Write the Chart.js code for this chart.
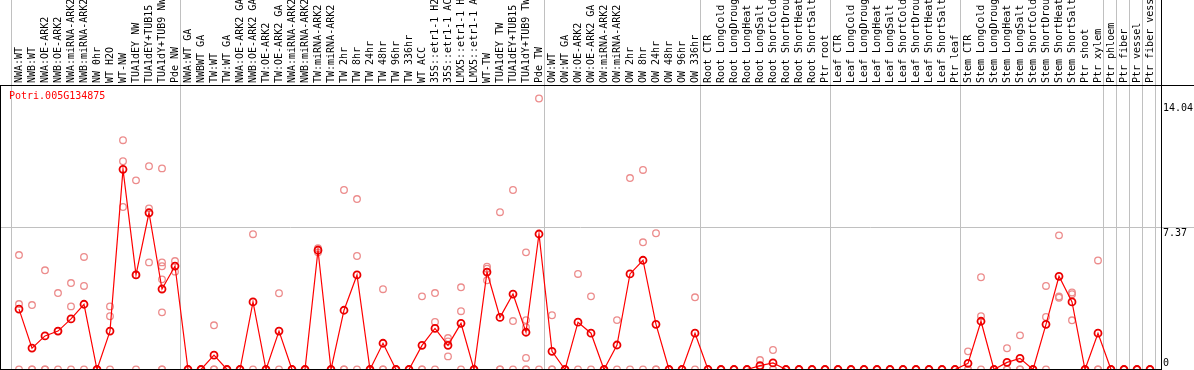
<!DOCTYPE html>
<html>
<head>
<meta charset="utf-8">
<script src="https://cdn.jsdelivr.net/npm/chart.js@4.4.1/dist/chart.umd.min.js"></script>
<style>
  html, body { margin: 0; padding: 0; background: #fff; }
  canvas { display: block; }
</style>
</head>
<body>
<canvas id="chart" width="1194" height="370"></canvas>
<script>
const geneId = 'Potri.005G134875';

const categories = [
  'NWA:WT', 'NWB:WT', 'NWA:OE-ARK2', 'NWB:OE-ARK2', 'NWA:miRNA-ARK2', 'NWB:miRNA-ARK2',
  'NW 0hr', 'WT H2O', 'WT-NW', 'TUA1dEY NW', 'TUA1dEY+TUB15 NW', 'TUA1dY+TUB9 NW', 'Pde NW',
  'NWA:WT GA', 'NWBWT GA', 'TW:WT', 'TW:WT GA', 'NWA:OE-ARK2 GA', 'NWB:OE-ARK2 GA',
  'TW:OE-ARK2', 'TW:OE-ARK2 GA', 'NWA:miRNA-ARK2 GA', 'NWB:miRNA-ARK2 GA', 'TW:miRNA-ARK2',
  'TW:miRNA-ARK2 GA', 'TW 2hr', 'TW 8hr', 'TW 24hr', 'TW 48hr', 'TW 96hr', 'TW 336hr',
  'WT ACC', '35S::etr1-1 H2O', '35S::etr1-1 ACC', 'LMX5::etr1-1 H2O', 'LMX5::etr1-1 ACC',
  'WT-TW', 'TUA1dEY TW', 'TUA1dEY+TUB15 TW', 'TUA1dY+TUB9 TW', 'Pde TW',
  'OW:WT', 'OW:WT GA', 'OW:OE-ARK2', 'OW:OE-ARK2 GA', 'OW:miRNA-ARK2', 'OW:miRNA-ARK2 GA',
  'OW 2hr', 'OW 8hr', 'OW 24hr', 'OW 48hr', 'OW 96hr', 'OW 336hr',
  'Root CTR', 'Root LongCold', 'Root LongDrought', 'Root LongHeat', 'Root LongSalt',
  'Root ShortCold', 'Root ShortDrought', 'Root ShortHeat', 'Root ShortSalt', 'Ptr root',
  'Leaf CTR', 'Leaf LongCold', 'Leaf LongDrought', 'Leaf LongHeat', 'Leaf LongSalt',
  'Leaf ShortCold', 'Leaf ShortDrought', 'Leaf ShortHeat', 'Leaf ShortSalt', 'Ptr leaf',
  'Stem CTR', 'Stem LongCold', 'Stem LongDrought', 'Stem LongHeat', 'Stem LongSalt',
  'Stem ShortCold', 'Stem ShortDrought', 'Stem ShortHeat', 'Stem ShortSalt',
  'Ptr shoot', 'Ptr xylem', 'Ptr phloem', 'Ptr fiber', 'Ptr vessel', 'Ptr fiber vessel'
];

// mean expression per sample
const means = [
  3.13, 1.11, 1.74, 1.99, 2.62, 3.38, 0, 1.99, 10.37, 4.90, 8.12, 4.17, 5.36,
  0, 0, 0.74, 0, 0, 3.50, 0, 1.99, 0, 0, 6.18, 0,
  3.07, 4.90, 0, 1.36, 0, 0,
  1.25, 2.13, 1.25, 2.39, 0, 5.05, 2.70, 3.91, 1.93, 7.02,
  0.94, 0, 2.45, 1.88, 0, 1.27, 4.95, 5.66, 2.34, 0, 0, 1.88,
  0, 0, 0, 0, 0.20, 0.34, 0, 0, 0, 0,
  0, 0, 0, 0, 0, 0, 0, 0, 0, 0,
  0.32, 2.50, 0, 0.37, 0.58, 0, 2.34, 4.83, 3.50,
  0, 1.88, 0, 0, 0, 0
];

// individual replicates per sample
const replicates = [
  [5.93, 3.39, 0], [3.34, 0, 0], [5.14, 0, 0], [3.96, 1.99, 0], [4.48, 3.27, 0], [5.83, 4.33, 0],
  [0, 0, 0], [3.27, 2.76, 0], [11.88, 10.79, 8.42], [9.80, 4.90, 0], [10.53, 8.35, 5.55],
  [10.42, 5.55, 5.35, 4.67, 2.96, 0, 0], [5.62, 5.07],
  [0, 0, 0], [0, 0, 0], [2.29, 0, 0], [0, 0, 0], [0, 0, 0], [7.01, 0], [0, 0, 0], [3.95, 0],
  [0, 0, 0], [0, 0, 0], [6.28, 6.07], [0, 0, 0],
  [9.30, 0, 0], [8.83, 5.88, 0], [0, 0, 0], [4.16, 0, 0], [0, 0, 0], [0, 0, 0],
  [3.79, 0, 0], [3.96, 2.46, 0], [1.63, 1.45, 0.68], [4.26, 3.02, 0], [0, 0, 0],
  [5.33, 5.22, 4.62], [8.15, 0, 0], [9.30, 2.51, 0], [6.07, 2.56, 2.19, 0.60, 0, 0], [14.04, 0],
  [2.81, 0, 0], [0, 0, 0], [4.95, 0], [3.79, 0], [0, 0, 0], [2.56, 0], [9.92, 0],
  [10.34, 6.59, 0], [7.06, 0, 0], [0, 0, 0], [0, 0, 0], [3.74, 0],
  [0, 0, 0], [0, 0, 0], [0, 0, 0], [0, 0, 0], [0.49, 0, 0], [1.01, 0, 0], [0, 0, 0], [0, 0, 0],
  [0, 0, 0], [0, 0, 0],
  [0, 0, 0], [0, 0, 0], [0, 0, 0], [0, 0, 0], [0, 0, 0], [0, 0, 0], [0, 0, 0], [0, 0, 0],
  [0, 0, 0], [0, 0, 0],
  [0.94, 0, 0], [4.78, 2.76, 0], [0, 0, 0], [1.10, 0, 0], [1.77, 0, 0], [0, 0, 0],
  [4.33, 2.72, 0], [6.95, 3.78, 3.72], [3.99, 3.90, 2.55],
  [0, 0, 0], [5.65, 0, 0], [0, 0, 0], [0, 0, 0], [0, 0, 0], [0, 0, 0]
];

// index of first sample in each tissue group (separator lines)
const groupStarts = [0, 13, 41, 53, 63, 73, 84, 85, 86, 87, 88];

const yTicks = [0, 7.37, 14.04];
const yMax = 14.74;

const FONT = '"DejaVu Sans Mono", "Liberation Mono", monospace';
const SEP_SHIFT = 0.6;

const framePlugin = {
  id: 'frame',
  beforeDraw(chart) {
    const { ctx, chartArea: a, scales: { x } } = chart;
    ctx.save();
    ctx.fillStyle = '#c0c0c0';
    groupStarts.forEach((k) => {
      const px = Math.round(x.getPixelForValue(k - SEP_SHIFT));
      ctx.fillRect(px, 0, 1, a.bottom);
    });
    ctx.restore();
  },
  afterDraw(chart) {
    const { ctx, chartArea: a, scales: { y } } = chart;
    ctx.save();
    ctx.fillStyle = '#000';
    ctx.fillRect(0, Math.floor(a.top), chart.width, 1);
    ctx.fillRect(Math.floor(a.right), 0, 1, chart.height);
    ctx.fillRect(Math.floor(a.left), a.top, 1, a.bottom - a.top);
    ctx.fillRect(a.left, Math.floor(a.bottom), a.right - a.left, 1);

    // value labels on the right: max value sits a bit lower
    ctx.font = '10px ' + FONT;
    ctx.textAlign = 'left';
    const top = yTicks[yTicks.length - 1];
    yTicks.forEach((v) => {
      const py = y.getPixelForValue(v);
      if (v === 0) {
        ctx.textBaseline = 'bottom';
        ctx.fillText(String(v), a.right + 2, py - 1);
      } else {
        ctx.textBaseline = 'top';
        ctx.fillText(String(v), a.right + 2, py + (v === top ? 5 : 1));
      }
    });

    ctx.fillStyle = '#ff0000';
    ctx.textBaseline = 'top';
    ctx.fillText(geneId, a.left + 9, a.top + 6);
    ctx.restore();
  }
};

const meanPoints = means.map((v, i) => ({ x: i, y: v }));
const repPoints = replicates.flatMap((r, i) => r.map((v) => ({ x: i, y: v })));

new Chart(document.getElementById('chart'), {
  type: 'line',
  data: {
    datasets: [
      {
        label: 'mean',
        data: meanPoints,
        borderColor: '#ff0000',
        borderWidth: 1.2,
        tension: 0,
        pointRadius: 3.5,
        pointBorderWidth: 1.8,
        pointBorderColor: 'rgb(235, 0, 0)',
        pointBackgroundColor: 'rgba(0, 0, 0, 0)',
        order: 0,
      },
      {
        label: 'replicates',
        data: repPoints,
        showLine: false,
        pointRadius: 3.3,
        pointBorderWidth: 1.3,
        pointBorderColor: 'rgb(236, 140, 140)',
        pointBackgroundColor: 'rgba(0, 0, 0, 0)',
        order: 1,
      },
    ],
  },
  options: {
    responsive: false,
    animation: false,
    devicePixelRatio: 1,
    layout: { autoPadding: false, padding: { left: 0, right: 0, top: 0, bottom: 0.5 } },
    plugins: {
      legend: { display: false },
      tooltip: { enabled: false },
    },
    scales: {
      x: {
        type: 'linear',
        position: 'top',
        bounds: 'data',
        min: -19 / 13,
        max: 87 + 11 / 13,
        afterBuildTicks: (axis) => {
          axis.ticks = categories.map((c, i) => ({ value: i }));
        },
        afterFit: (axis) => {
          axis.height = 85;
          axis.paddingLeft = 0;
          axis.paddingRight = 0;
        },
        ticks: {
          autoSkip: false,
          minRotation: 90,
          maxRotation: 90,
          padding: 2,
          labelOffset: 12,
          color: '#000',
          font: { family: FONT, size: 10 },
          callback: (value, index) => categories[index],
        },
        grid: { display: false, drawTicks: false, tickLength: 0 },
        border: { display: false },
      },
      y: {
        position: 'right',
        min: 0,
        max: yMax,
        afterBuildTicks: (axis) => {
          axis.ticks = yTicks.map((v) => ({ value: v }));
        },
        afterFit: (axis) => {
          axis.width = 33;
          axis.paddingTop = 0;
          axis.paddingBottom = 0;
        },
        ticks: { display: false },
        grid: {
          color: (ctx) => (ctx.tick && ctx.tick.value === 7.37 ? '#c0c0c0' : 'rgba(0,0,0,0)'),
          drawTicks: true,
          tickLength: 40,
        },
        border: { display: false },
      },
    },
  },
  plugins: [framePlugin],
});
</script>
</body>
</html>
